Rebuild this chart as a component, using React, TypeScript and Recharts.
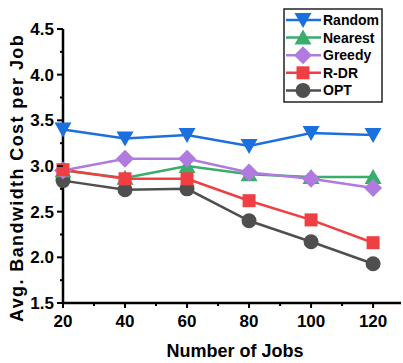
import { LineChart, Line, XAxis, YAxis } from 'recharts';

const jobs = [20, 40, 60, 80, 100, 120];
const random = [3.4, 3.3, 3.34, 3.22, 3.36, 3.34];
const nearest = [2.95, 2.87, 3.0, 2.91, 2.88, 2.88];
const greedy = [2.95, 3.08, 3.08, 2.93, 2.86, 2.76];
const rdr = [2.96, 2.86, 2.86, 2.62, 2.41, 2.16];
const opt = [2.84, 2.74, 2.75, 2.4, 2.17, 1.93];

const xTicks = [20, 30, 40, 50, 60, 70, 80, 90, 100, 110, 120];
const yTicks = [1.5, 1.75, 2.0, 2.25, 2.5, 2.75, 3.0, 3.25, 3.5, 3.75, 4.0, 4.25, 4.5];

const font = '"Liberation Sans", Arial, sans-serif';

const data = jobs.map((j, i) => ({
  jobs: j,
  random: random[i],
  nearest: nearest[i],
  greedy: greedy[i],
  rdr: rdr[i],
  opt: opt[i]
}));

type Shape = 'down' | 'up' | 'diamond' | 'square' | 'circle';

function marker(shape: Shape, cx: number, cy: number, color: string, key?: string) {
  if (shape === 'down')
    return <polygon key={key} points={`${cx - 8.5},${cy - 7} ${cx + 8.5},${cy - 7} ${cx},${cy + 8}`} fill={color} />;
  if (shape === 'up')
    return <polygon key={key} points={`${cx - 8.5},${cy + 7} ${cx + 8.5},${cy + 7} ${cx},${cy - 8}`} fill={color} />;
  if (shape === 'diamond')
    return <polygon key={key} points={`${cx},${cy - 9} ${cx + 9},${cy} ${cx},${cy + 9} ${cx - 9},${cy}`} fill={color} />;
  if (shape === 'square')
    return <rect key={key} x={cx - 6.5} y={cy - 6.5} width={13} height={13} fill={color} />;
  return <circle key={key} cx={cx} cy={cy} r={7.5} fill={color} />;
}

const series: { key: string; name: string; color: string; shape: Shape }[] = [
  { key: 'random', name: 'Random', color: '#1b6fdf', shape: 'down' },
  { key: 'nearest', name: 'Nearest', color: '#39ad6a', shape: 'up' },
  { key: 'greedy', name: 'Greedy', color: '#b07ade', shape: 'diamond' },
  { key: 'rdr', name: 'R-DR', color: '#ef3f42', shape: 'square' },
  { key: 'opt', name: 'OPT', color: '#4f4f4f', shape: 'circle' }
];

// drawing order (bottom to top)
const drawOrder = ['opt', 'nearest', 'greedy', 'rdr', 'random'];

const XTick = (props: any) => {
  const { x, y, payload } = props;
  const major = payload.value % 20 === 0;
  return (
    <g>
      <line x1={x} x2={x} y1={y - 8} y2={y - 8 + (major ? 5 : 3)} stroke="#000" strokeWidth={2} />
      {major && (
        <text x={x} y={y + 16} textAnchor="middle" fontFamily={font} fontWeight="bold" fontSize={17} fill="#000">
          {payload.value}
        </text>
      )}
    </g>
  );
};

const YTick = (props: any) => {
  const { x, y, payload } = props;
  const major = Math.abs(payload.value * 2 - Math.round(payload.value * 2)) < 1e-6;
  return (
    <g>
      <line x1={x + 8} x2={x + 8 - (major ? 6 : 3)} y1={y} y2={y} stroke="#000" strokeWidth={2} />
      {major && (
        <text x={x - 1} y={y + 6} textAnchor="end" fontFamily={font} fontWeight="bold" fontSize={17} fill="#000">
          {payload.value.toFixed(1)}
        </text>
      )}
    </g>
  );
};

const LegendBox = () => (
  <svg width={100} height={95} style={{ display: 'block' }}>
    <rect x={1} y={1} width={98} height={93} fill="#fff" stroke="#222" strokeWidth={1.5} />
    {series.map((s, i) => {
      const cy = 12 + i * 17.6;
      return (
        <g key={s.key}>
          <line x1={3} x2={38} y1={cy} y2={cy} stroke={s.color} strokeWidth={2.5} />
          {marker(s.shape, 20, cy, s.color)}
          <text x={40} y={cy + 5} fontFamily={font} fontWeight="bold" fontSize={14} fill="#000">
            {s.name}
          </text>
        </g>
      );
    })}
  </svg>
);

const XTitle = () => (
  <text x={235} y={357} textAnchor="middle" fontFamily={font} fontWeight="bold" fontSize={18} fill="#000">
    Number of Jobs
  </text>
);

const YTitle = () => (
  <text
    x={0}
    y={0}
    transform="translate(23,178) rotate(-90)"
    textAnchor="middle"
    fontFamily={font}
    fontWeight="bold"
    fontSize={18}
    letterSpacing={1.4}
    fill="#000"
  >
    Avg. Bandwidth Cost per Job
  </text>
);

export default function App() {
  return (
    <div style={{ position: 'absolute', left: 0, top: 0, width: 403, height: 363, background: '#fff' }}>
      <LineChart width={403} height={363} data={data} margin={{ top: 29, right: 2, bottom: 0, left: 0 }}>
        <XAxis
          dataKey="jobs"
          type="number"
          domain={[20, 129]}
          ticks={xTicks}
          interval={0}
          tick={<XTick />}
          tickLine={false}
          axisLine={{ stroke: '#000', strokeWidth: 2.5 }}
          height={60}
          label={{ content: () => <XTitle /> }}
        />
        <YAxis
          type="number"
          domain={[1.5, 4.5]}
          ticks={yTicks}
          interval={0}
          tick={<YTick />}
          tickLine={false}
          axisLine={{ stroke: '#000', strokeWidth: 2.5 }}
          width={63}
          label={{ content: () => <YTitle /> }}
        />
        {drawOrder.map((k) => {
          const s = series.find((q) => q.key === k)!;
          return (
            <Line
              key={s.key}
              dataKey={s.key}
              name={s.name}
              stroke={s.color}
              strokeWidth={2.5}
              isAnimationActive={false}
              dot={(p: any) => marker(s.shape, p.cx, p.cy, s.color, `${s.key}-${p.index}`)}
              activeDot={false}
            />
          );
        })}
      </LineChart>
      <div style={{ position: 'absolute', left: 283, top: 8 }}>
        <LegendBox />
      </div>
    </div>
  );
}
